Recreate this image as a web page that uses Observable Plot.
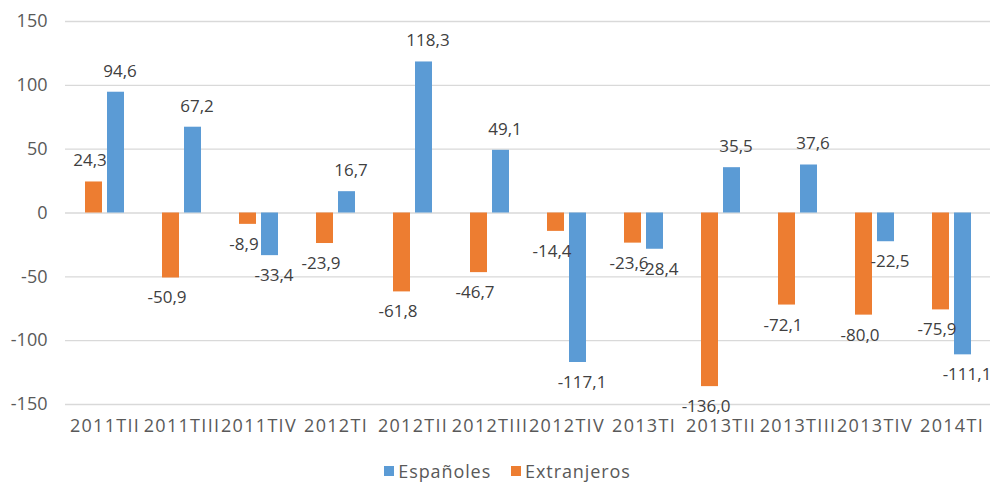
<!DOCTYPE html>
<html>
<head>
<meta charset="utf-8">
<script src="https://cdn.jsdelivr.net/npm/d3@7"></script>
<script src="https://cdn.jsdelivr.net/npm/@observablehq/plot@0.6"></script>
<style>
  body { margin: 0; background: #fff; font-family: "Open Sans", Roboto, sans-serif; }
  #chart { width: 995px; height: 452px; }
  .legend { display: flex; justify-content: center; gap: 20px; font-size: 18px; letter-spacing: 0.9px; color: #595959; margin-top: 8px; padding-left: 20px; line-height: 22px; }
  .legend span.item { display: flex; align-items: center; }
  .legend i { display: inline-block; width: 10px; height: 10px; margin-right: 4px; }
</style>
</head>
<body>
<div id="chart"></div>
<script>
const categories = ["2011TII","2011TIII","2011TIV","2012TI","2012TII","2012TIII","2012TIV","2013TI","2013TII","2013TIII","2013TIV","2014TI"];
const espanoles = [94.6, 67.2, -33.4, 16.7, 118.3, 49.1, -117.1, -28.4, 35.5, 37.6, -22.5, -111.1];
const extranjeros = [24.3, -50.9, -8.9, -23.9, -61.8, -46.7, -14.4, -23.6, -136.0, -72.1, -80.0, -75.9];
const seriesNames = ["Españoles", "Extranjeros"];
const seriesColors = ["#5b9bd5", "#ed7d31"];
const yTicks = [-150, -100, -50, 0, 50, 100, 150];

const rows = [];
categories.forEach((c, i) => {
  rows.push({cat: c, series: "Extranjeros", v: extranjeros[i]});
  rows.push({cat: c, series: "Españoles", v: espanoles[i]});
});
const fmt = v => v.toFixed(1).replace(".", ",");
const ext = rows.filter(d => d.series === "Extranjeros");
const esp = rows.filter(d => d.series === "Españoles");

const textCommon = {x: "cat", y: "v", text: d => fmt(d.v), fontSize: 17, fill: "#404040", lineAnchor: "middle", style: "letter-spacing:0.6px"};

const chart = Plot.plot({
  width: 995,
  height: 452,
  marginTop: 21,
  marginBottom: 48,
  marginLeft: 65,
  marginRight: 5,
  style: {fontFamily: "'Open Sans', Roboto, sans-serif", background: "#fff"},
  x: {domain: categories, padding: 0, axis: null, label: null},
  y: {domain: [-150, 150], axis: null, label: null},
  color: {domain: seriesNames, range: seriesColors},
  marks: [
    Plot.ruleY(yTicks, {stroke: "#d9d9d9", strokeWidth: 1.3}),
    Plot.barY(ext, {x: "cat", y: "v", fill: d => d.series, dx: -11, insetLeft: 30, insetRight: 30}),
    Plot.barY(esp, {x: "cat", y: "v", fill: d => d.series, dx: 11, insetLeft: 30, insetRight: 30}),
    Plot.text(ext.filter(d => d.v >= 0), {...textCommon, dx: -15, dy: -21}),
    Plot.text(ext.filter(d => d.v < 0), {...textCommon, dx: -15, dy: 20}),
    Plot.text(esp.filter(d => d.v >= 0), {...textCommon, dx: 15, dy: -21}),
    Plot.text(esp.filter(d => d.v < 0), {...textCommon, dx: 15, dy: 20}),
    Plot.axisY(yTicks, {tickSize: 0, tickPadding: 18, fontSize: 18, fill: "#595959", label: null, tickFormat: d => String(d)}),
    Plot.axisX(categories, {tickSize: 0, tickPadding: 15, fontSize: 18, fill: "#595959", label: null, anchor: "bottom"})
  ]
});
d3.select(chart).selectAll("[aria-label='x-axis tick label'] text").style("letter-spacing", "1.3px");
document.getElementById("chart").appendChild(chart);

const legend = document.createElement("div");
legend.className = "legend";
seriesNames.forEach((n, i) => {
  const s = document.createElement("span");
  s.className = "item";
  s.innerHTML = `<i style="background:${seriesColors[i]}"></i>${n}`;
  legend.appendChild(s);
});
document.body.appendChild(legend);
</script>
</body>
</html>
